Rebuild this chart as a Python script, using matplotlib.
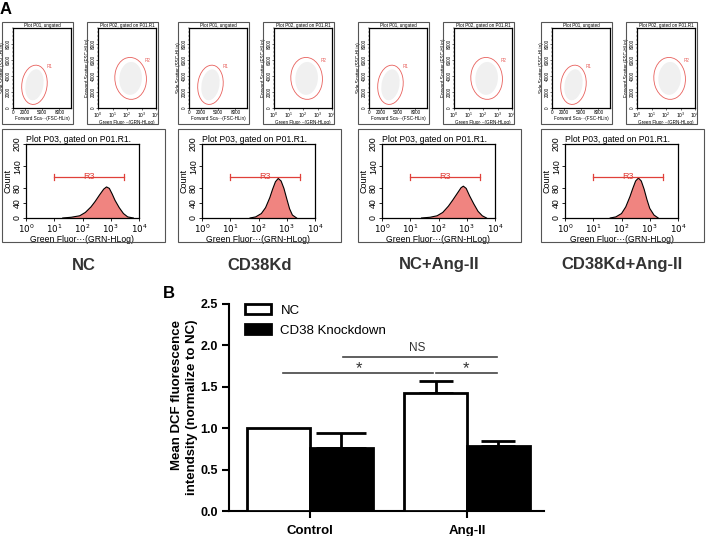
import numpy as np
import matplotlib
matplotlib.use('Agg')
import matplotlib.pyplot as plt
from matplotlib.patches import Ellipse, Rectangle, Patch
from matplotlib.transforms import Affine2D

plt.rcParams['font.family'] = ['Liberation Sans', 'DejaVu Sans']

W, H = 709, 536

# --- panel A: flow cytometry ---
sample_names = ['NC', 'CD38Kd', 'NC+Ang-II', 'CD38Kd+Ang-II']
box_left = [2, 178, 358, 541]

# histogram outlines (log10 of GRN-HLog, count)
hist_logx = [
    [1.3, 1.6, 1.9, 2.1, 2.3, 2.45, 2.6, 2.75, 2.85, 2.95, 3.05, 3.15, 3.3, 3.45, 3.6, 3.8],
    [1.7, 1.9, 2.1, 2.25, 2.4, 2.5, 2.6, 2.7, 2.8, 2.9, 3.0, 3.1, 3.2, 3.35],
    [1.4, 1.7, 1.95, 2.15, 2.35, 2.5, 2.65, 2.8, 2.88, 2.98, 3.1, 3.25, 3.4, 3.55, 3.7],
    [1.6, 1.8, 2.0, 2.15, 2.3, 2.4, 2.5, 2.6, 2.7, 2.8, 2.9, 3.0, 3.15, 3.3],
]
hist_count = [
    [0, 2, 6, 15, 30, 45, 62, 78, 84, 80, 65, 48, 28, 12, 3, 0],
    [0, 3, 12, 28, 55, 78, 98, 107, 100, 80, 52, 25, 8, 0],
    [0, 2, 6, 15, 32, 48, 65, 82, 86, 80, 60, 38, 18, 6, 0],
    [0, 3, 12, 30, 58, 80, 100, 108, 100, 78, 50, 26, 8, 0],
]
r3_gate = [10, 2950, 112]
hist_yticks = [0, 40, 80, 140, 200]

# R1 / R2 gates: centre x, centre y, width, height, angle
r1_gate = [3700, 2900, 4300, 5000, -22]
r2_gate = [2.25, 3700, 2.2, 5200, -22]
fsc_ticks = [0, 2000, 5000, 8000]
scatter_yticks = [0, 2000, 4000, 6000, 8000]

# --- panel B: bar chart ---
groups = ['Control', 'Ang-II']
nc_mean = [1.0, 1.43]
nc_err = [0.0, 0.14]
kd_mean = [0.76, 0.785]
kd_err = [0.18, 0.06]
# x0, x1, y, label, label x
sig_lines = [(-0.17, 0.78, 1.67, '*', 0.31),
             (0.80, 1.19, 1.67, '*', 0.99),
             (0.21, 1.19, 1.86, 'NS', 0.68)]


def px_axes(fig, x0, y0, x1, y1):
    return fig.add_axes([x0 / W, 1 - y1 / H, (x1 - x0) / W, (y1 - y0) / H])


def px_box(fig, x0, y0, x1, y1):
    fig.add_artist(Rectangle((x0 / W, 1 - y1 / H), (x1 - x0) / W, (y1 - y0) / H,
                             transform=fig.transFigure, fill=False,
                             edgecolor='#555555', lw=0.8))


def log_minor(ax, decades=4):
    pos = [d + np.log10(k) for d in range(decades) for k in range(2, 10)]
    ax.set_xticks(pos, minor=True)


def add_gate(ax, gate, xscale, label, lx, ly):
    # gate drawn in a frame where x is stretched to the y range, so the tilt stays an ellipse
    cx, cy, ew, eh, ang = gate
    tr = Affine2D().scale(1.0 / xscale, 1.0) + ax.transData
    ax.add_patch(Ellipse((cx * xscale, cy), ew * xscale * 0.7, eh * 0.8, angle=ang,
                         facecolor='#f0f0f0', edgecolor='none', transform=tr))
    ax.add_patch(Ellipse((cx * xscale, cy), ew * xscale, eh, angle=ang, fill=False,
                         edgecolor=red, lw=0.6, transform=tr))
    ax.text(cx + ew * lx, cy + eh * ly, label, color=red, fontsize=fs_tiny)


fig = plt.figure(figsize=(W / 100, H / 100), dpi=100)

fs_tiny = 3.3
red = '#e8605c'
for i, name in enumerate(sample_names):
    bx = box_left[i]

    # scatter plot P01
    px_box(fig, bx, 22, bx + 71, 124)
    ax = px_axes(fig, bx + 11, 28, bx + 69, 108)
    ax.set_xlim(0, 10000)
    ax.set_ylim(0, 10000)
    ax.set_xticks(fsc_ticks)
    ax.set_yticks(scatter_yticks)
    ax.set_xticks(np.arange(0, 10001, 500), minor=True)
    ax.set_yticks(np.arange(0, 10001, 500), minor=True)
    ax.tick_params(labelsize=fs_tiny, length=1.2, width=0.4, pad=0.5)
    ax.tick_params(which='minor', length=0.8, width=0.3)
    plt.setp(ax.get_yticklabels(), rotation=90, va='center')
    ax.set_title('Plot P01, ungated', fontsize=fs_tiny, pad=0.8)
    ax.set_xlabel('Forward Sca\u00b7\u00b7\u00b7(FSC-HLin)', fontsize=fs_tiny, labelpad=0.5)
    ax.set_ylabel('Side Scatter (SSC-HLin)', fontsize=fs_tiny, labelpad=0.5)
    for s in ax.spines.values():
        s.set_linewidth(0.9)
    add_gate(ax, r1_gate, 1.0, 'R1', 0.5, 0.42)

    # scatter plot P02
    px_box(fig, bx + 85, 22, bx + 156, 124)
    ax = px_axes(fig, bx + 96, 28, bx + 154, 108)
    ax.set_xlim(0, 4)
    ax.set_ylim(0, 10000)
    ax.set_xticks(range(5))
    ax.set_xticklabels(['$10^{%d}$' % k for k in range(5)])
    log_minor(ax)
    ax.set_yticks(scatter_yticks)
    ax.set_yticks(np.arange(0, 10001, 500), minor=True)
    ax.tick_params(labelsize=fs_tiny, length=1.2, width=0.4, pad=0.5)
    ax.tick_params(which='minor', length=0.8, width=0.3)
    plt.setp(ax.get_yticklabels(), rotation=90, va='center')
    ax.set_title('Plot P02, gated on P01.R1', fontsize=fs_tiny, pad=0.8)
    ax.set_xlabel('Green Fluor\u00b7\u00b7\u00b7(GRN-HLog)', fontsize=fs_tiny, labelpad=0.5)
    ax.set_ylabel('Forward Scatter (FSC-HLin)', fontsize=fs_tiny, labelpad=0.5)
    for s in ax.spines.values():
        s.set_linewidth(0.9)
    add_gate(ax, r2_gate, 2500.0, 'R2', 0.45, 0.4)

    # histogram P03
    px_box(fig, bx, 129, bx + 163, 242)
    ax = px_axes(fig, bx + 24, 144, bx + 137, 218)
    x = 10 ** np.array(hist_logx[i])
    y = np.array(hist_count[i])
    ax.fill_between(x, 0, y, facecolor='#f08480', edgecolor='none')
    ax.plot(x, y, color='black', lw=0.8)
    ax.set_xscale('log')
    ax.set_xlim(1, 1e4)
    ax.set_ylim(0, 200)
    ax.set_xticks([1, 10, 100, 1000, 10000])
    ax.set_xticklabels(['$10^{%d}$' % k for k in range(5)])
    ax.set_yticks(hist_yticks)
    ax.tick_params(labelsize=6.3, length=2, width=0.6, pad=1)
    ax.tick_params(which='minor', length=1.2, width=0.4)
    plt.setp(ax.get_yticklabels(), rotation=90, va='center')
    ax.set_title('Plot P03, gated on P01.R1.', fontsize=6.2, loc='left', pad=1)
    ax.set_xlabel('Green Fluor\u00b7\u00b7\u00b7(GRN-HLog)', fontsize=6.2, labelpad=0.5)
    ax.set_ylabel('Count', fontsize=6.5, labelpad=0)
    for s in ax.spines.values():
        s.set_linewidth(0.9)
    g0, g1, gy = r3_gate
    ax.plot([g0, g1], [gy, gy], color='#e0403a', lw=0.9)
    ax.plot([g0, g0], [gy - 8, gy + 8], color='#e0403a', lw=0.9)
    ax.plot([g1, g1], [gy - 8, gy + 8], color='#e0403a', lw=0.9)
    ax.text(np.sqrt(g0 * g1), gy, 'R3', color='#e0403a', fontsize=6.5,
            ha='center', va='center')

    fig.text((bx + 81.5) / W, 1 - 265 / H, name, ha='center', va='center',
             fontsize=12, fontweight='bold', color='#333333')

fig.text(6 / W, 1 - 10 / H, 'A', ha='center', va='center', fontsize=12, fontweight='bold')
fig.text(169 / W, 1 - 294 / H, 'B', ha='center', va='center', fontsize=12, fontweight='bold')

# --- bar chart ---
ax = px_axes(fig, 229, 304, 544, 511)
xc = np.arange(len(groups))
bw = 0.4
ax.bar(xc - bw / 2, nc_mean, bw, facecolor='white', edgecolor='black', lw=2,
       label='NC', zorder=3)
ax.bar(xc + bw / 2, kd_mean, bw, facecolor='black', edgecolor='black', lw=2,
       label='CD38 Knockdown', zorder=3)
caps = [[0, 12], [18, 12]]
for j in range(len(groups)):
    if nc_err[j] > 0:
        ax.errorbar(xc[j] - bw / 2, nc_mean[j], yerr=[[0], [nc_err[j]]], fmt='none',
                    ecolor='black', elinewidth=2, capsize=caps[0][j], capthick=2, zorder=2)
    if kd_err[j] > 0:
        ax.errorbar(xc[j] + bw / 2, kd_mean[j], yerr=[[0], [kd_err[j]]], fmt='none',
                    ecolor='black', elinewidth=2, capsize=caps[1][j], capthick=2, zorder=2)

for x0, x1, yy, lab, lx in sig_lines:
    ax.plot([x0, x1], [yy, yy], color='#444444', lw=1.2, clip_on=False)
    if lab == '*':
        ax.text(lx, yy - 0.04, lab, ha='center', va='bottom', fontsize=12, color='#333333')
    else:
        ax.text(lx, yy + 0.04, lab, ha='center', va='bottom', fontsize=8.5, color='#333333')

ax.set_xlim(-0.516, 1.49)
ax.set_ylim(0, 2.5)
ax.set_yticks(np.arange(0, 2.51, 0.5))
ax.set_yticklabels(['%.1f' % v for v in np.arange(0, 2.51, 0.5)], fontweight='bold')
ax.set_xticks(xc)
ax.set_xticklabels(groups, fontweight='bold')
ax.tick_params(axis='y', labelsize=9, length=5, width=1.5, pad=3)
ax.tick_params(axis='x', labelsize=9.5, length=5, width=1.5, pad=5)
for s in ['top', 'right']:
    ax.spines[s].set_visible(False)
for s in ['left', 'bottom']:
    ax.spines[s].set_linewidth(1.5)
ax.set_ylabel('Mean DCF fluorescence\nintendsity (normalize to NC)', fontsize=9.5,
              fontweight='bold', multialignment='right', labelpad=2, linespacing=1.25)

handles = [Patch(facecolor='white', edgecolor='black', lw=2, label='NC'),
           Patch(facecolor='black', edgecolor='black', lw=2, label='CD38 Knockdown')]
ax.legend(handles=handles, loc='upper left', bbox_to_anchor=(0.05, 1.0), frameon=False,
          fontsize=9.5, handlelength=2.0, handleheight=0.8, handletextpad=0.7,
          labelspacing=0.55, borderpad=0, borderaxespad=0)

fig.savefig('out.png', dpi=100)
